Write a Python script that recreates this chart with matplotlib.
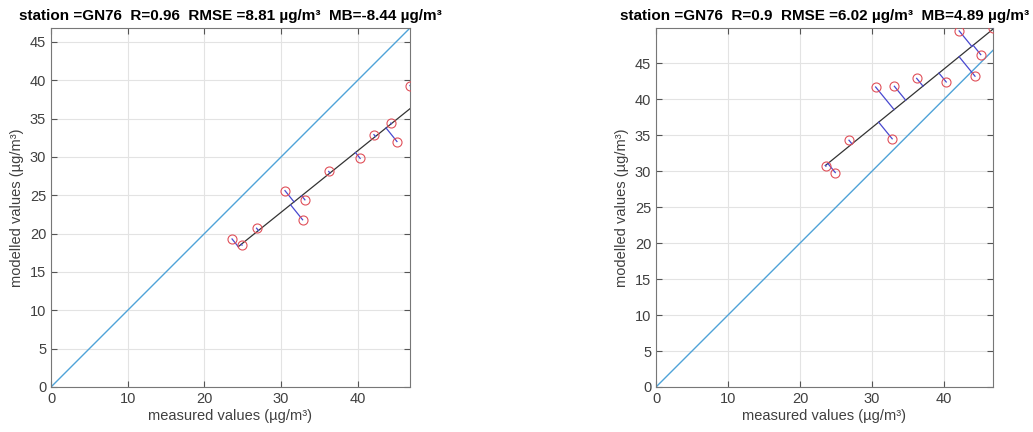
import numpy as np
import matplotlib
matplotlib.use("Agg")
import matplotlib.pyplot as plt

plt.rcParams['font.family'] = ['Liberation Sans', 'DejaVu Sans']

# measured values (same station in both panels)
measured = [23.6, 24.9, 26.8, 30.5, 32.8, 33.1, 36.2, 40.3, 42.1, 44.3, 45.1, 46.8]
# modelled values, left and right panel
modelled_a = [19.3, 18.5, 20.7, 25.6, 21.8, 24.4, 28.1, 29.8, 32.9, 34.4, 32.0, 39.3]
modelled_b = [30.7, 29.8, 34.3, 41.7, 34.5, 41.8, 42.9, 42.4, 49.5, 43.2, 46.2, 49.9]

titles = ["station =GN76  R=0.96  RMSE =8.81 \u00b5g/m\u00b3  MB=-8.44 \u00b5g/m\u00b3",
          "station =GN76  R=0.9  RMSE =6.02 \u00b5g/m\u00b3  MB=4.89 \u00b5g/m\u00b3"]
xlabel = "measured values (\u00b5g/m\u00b3)"
ylabel = "modelled values (\u00b5g/m\u00b3)"
xticks = [0, 10, 20, 30, 40]
yticks = [0, 5, 10, 15, 20, 25, 30, 35, 40, 45]

W, H = 1033, 432
fig = plt.figure(figsize=(W / 100, H / 100), dpi=100)

# axes boxes in pixels: left, right
boxes = [(51, 410), (656, 993)]
top_px, bot_px = 28, 387

txt_gray = '#404040'


def tls_fit(x, y):
    # orthogonal (total least squares) regression
    pts = np.column_stack([x, y])
    c = pts.mean(axis=0)
    _, _, vt = np.linalg.svd(pts - c)
    d = vt[0]
    t = (pts - c) @ d
    proj = c + np.outer(t, d)
    return c, d, t, proj


for i, model in enumerate([modelled_a, modelled_b]):
    x = np.array(measured)
    y = np.array(model)
    l, r = boxes[i]
    ax = fig.add_axes([l / W, (H - bot_px) / H, (r - l) / W, (bot_px - top_px) / H])

    lim = x.max()
    ymax = max(x.max(), y.max())

    # 1:1 line
    ax.plot([0, lim], [0, lim], color='#4fa3d8', lw=1.0, zorder=2)

    c, d, t, proj = tls_fit(x, y)
    p0 = c + t.min() * d
    p1 = c + t.max() * d
    ax.plot([p0[0], p1[0]], [p0[1], p1[1]], color='#333333', lw=0.9, zorder=3)
    for k in range(len(x)):
        ax.plot([x[k], proj[k, 0]], [y[k], proj[k, 1]], color='#4848d0', lw=0.9, zorder=3)

    ax.plot(x, y, 'o', mfc='none', mec='#e0505a', ms=6.5, mew=0.8, zorder=4)

    ax.set_xlim(0, lim)
    ax.set_ylim(0, ymax)
    ax.set_xticks(xticks)
    ax.set_yticks(yticks)
    ax.grid(True, color='#e3e3e3', lw=0.8)
    ax.set_axisbelow(True)
    ax.tick_params(direction='in', top=True, right=True, length=4, width=0.8,
                   colors='#555555', labelcolor=txt_gray, labelsize=10.5)
    for s in ax.spines.values():
        s.set_color('#777777')
        s.set_linewidth(0.8)

    ax.set_xlabel(xlabel, fontsize=10.5, color=txt_gray, labelpad=2)
    ax.set_ylabel(ylabel, fontsize=10.5, color=txt_gray, labelpad=4)
    ax.set_title(titles[i], fontsize=11, fontweight='bold', pad=6)

fig.savefig("out.png", dpi=100)
